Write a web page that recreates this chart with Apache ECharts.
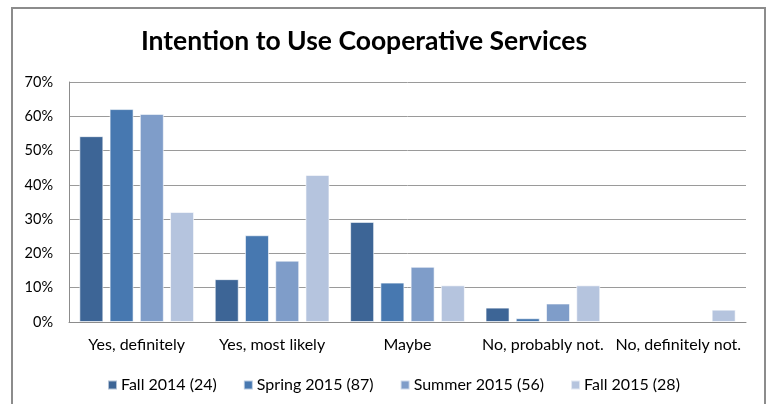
<!DOCTYPE html>
<html>
<head>
<meta charset="utf-8">
<script src="https://cdn.jsdelivr.net/npm/echarts@6/dist/echarts.min.js"></script>
<style>
  html, body { margin: 0; padding: 0; background: #fff; }
  #chart { width: 773px; height: 404px; }
</style>
</head>
<body>
<div id="chart"></div>
<script>
// Survey responses per term, percent of respondents
const categories = ['Yes, definitely', 'Yes, most likely', 'Maybe', 'No, probably not.', 'No, definitely not.'];
const fall2014   = [54.2, 12.5, 29.2, 4.2, 0];
const spring2015 = [62.1, 25.3, 11.5, 1.1, 0];
const summer2015 = [60.7, 17.9, 16.1, 5.4, 0];
const fall2015   = [32.1, 42.9, 10.7, 10.7, 3.6];
const seriesNames = ['Fall 2014 (24)', 'Spring 2015 (87)', 'Summer 2015 (56)', 'Fall 2015 (28)'];
const yTicks = [0, 10, 20, 30, 40, 50, 60, 70];

const FONT = 'Lato, "Open Sans", sans-serif';
const colors = ['#3d6596', '#4778b0', '#7f9dc9', '#b5c4de'];
const seriesData = [fall2014, spring2015, summer2015, fall2015];

const chart = echarts.init(document.getElementById('chart'), null, { renderer: 'canvas' });

chart.setOption({
  backgroundColor: '#fff',
  animation: false,
  color: colors,
  graphic: [{
    type: 'rect',
    shape: { x: 12, y: 8, width: 753, height: 410 },
    style: { fill: 'none', stroke: '#8c8c8c', lineWidth: 2 },
    silent: true
  }],
  title: {
    text: 'Intention to Use Cooperative Services',
    left: 359, top: 23, textAlign: 'center',
    textStyle: { fontFamily: FONT, fontWeight: 'bold', fontSize: 26.5, color: '#000' }
  },
  legend: {
    data: seriesNames,
    left: 102, top: 372,
    icon: 'rect',
    itemWidth: 9, itemHeight: 9,
    itemGap: 26,
    textStyle: { fontFamily: FONT, fontSize: 16, color: '#000', padding: [0, 0, 0, -1] }
  },
  grid: { left: 69, right: 27, top: 82, bottom: 82, containLabel: false },
  xAxis: {
    type: 'category',
    data: categories,
    axisLine: { lineStyle: { color: '#8c8c8c', width: 1 } },
    axisTick: { show: false },
    axisLabel: { fontFamily: FONT, fontSize: 16, color: '#000', margin: 15, interval: 0 }
  },
  yAxis: {
    type: 'value',
    min: 0, max: 70, interval: 10,
    axisLine: { show: true, lineStyle: { color: '#8c8c8c' } },
    axisTick: { show: false },
    splitLine: { lineStyle: { color: '#9a9a9a', width: 1 } },
    axisLabel: {
      fontFamily: FONT, fontSize: 14.5, color: '#000', margin: 16,
      formatter: v => yTicks.includes(v) ? v + '%' : ''
    }
  },
  series: seriesData.map((d, i) => ({
    name: seriesNames[i],
    type: 'bar',
    // zero-height bars get no outline so nothing is drawn for them
    data: d.map(v => v === 0 ? { value: v, itemStyle: { borderWidth: 0 } } : v),
    barWidth: 24,
    barGap: '26%',
    itemStyle: { color: colors[i], borderColor: 'rgba(255,255,255,0.6)', borderWidth: 1 }
  }))
});
</script>
</body>
</html>
